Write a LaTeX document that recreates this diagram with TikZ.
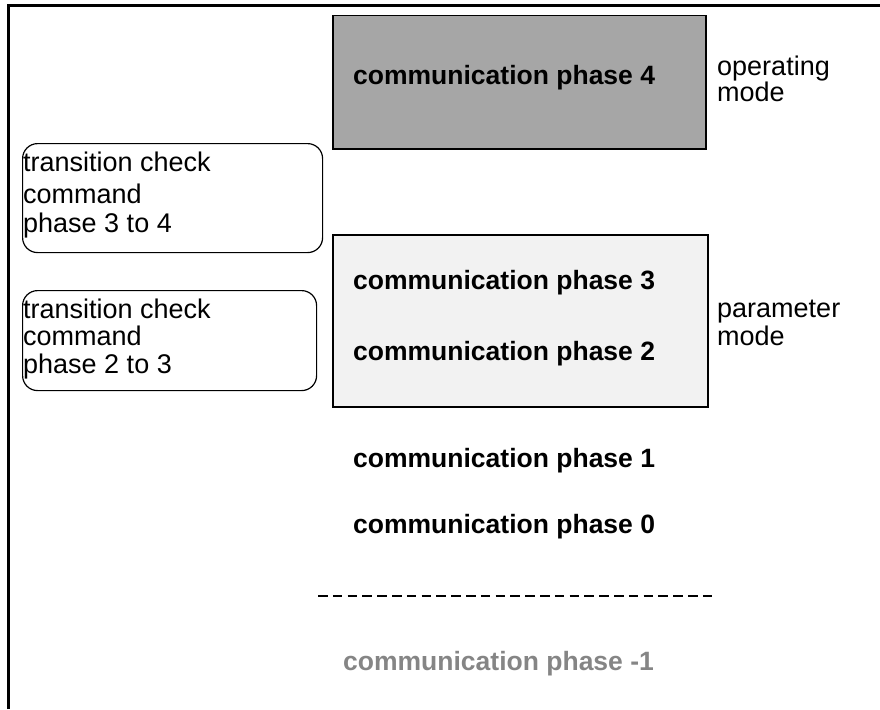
\documentclass[tikz,border=0pt]{standalone}
\usepackage{fontspec}
\setmainfont{Liberation Sans}
\definecolor{opfill}{HTML}{A6A6A6}
\definecolor{parfill}{HTML}{F2F2F2}
\definecolor{greytext}{HTML}{858585}
\begin{document}
\begin{tikzpicture}[x=1pt,y=-1pt,
  phasebox/.style={draw=black, line width=1.5pt, anchor=north west, inner sep=0pt},
  cmdbox/.style={draw=black, line width=1.2pt, rounded corners=15pt, anchor=north west, inner sep=0pt},
  phasetext/.style={anchor=base west, inner sep=0pt, font=\fontsize{26.5}{30}\selectfont\bfseries},
  plaintext/.style={anchor=base west, inner sep=0pt, font=\fontsize{27}{30}\selectfont},
]
\useasboundingbox (0,0) rectangle (880,709);
% frame
\draw[line width=2.5pt] (8.5,709) -- (8.5,5.5) -- (880,5.5);
% operating mode box
\node[phasebox, fill=opfill, minimum width=373pt, minimum height=133pt] (opbox) at (332,15) {};
\node[phasetext] (p4) at (353,84) {communication phase 4};
\node[plaintext] (op1) at (717,75) {operating};
\node[plaintext] (op2) at (717,101) {mode};
% parameter mode box
\node[phasebox, fill=parfill, minimum width=375pt, minimum height=172pt] (parbox) at (332,234) {};
\node[phasetext] (p3) at (353,289) {communication phase 3};
\node[phasetext] (p2) at (353,360) {communication phase 2};
\node[plaintext] (pm1) at (717,317) {parameter};
\node[plaintext] (pm2) at (717,345) {mode};
% transition command boxes
\node[cmdbox, minimum width=300pt, minimum height=109pt] (cmd34) at (22,143) {};
\node[plaintext] (c34a) at (23,171) {transition check};
\node[plaintext] (c34b) at (23,203) {command};
\node[plaintext] (c34c) at (23,232) {phase 3 to 4};
\node[cmdbox, minimum width=294pt, minimum height=100pt] (cmd23) at (22,290) {};
\node[plaintext] (c23a) at (23,318) {transition check};
\node[plaintext] (c23b) at (23,345) {command};
\node[plaintext] (c23c) at (23,373) {phase 2 to 3};
% lower phases
\node[phasetext] (p1) at (353,467) {communication phase 1};
\node[phasetext] (p0) at (353,533) {communication phase 0};
\coordinate (dl) at (318,596);
\coordinate (dr) at (717,596);
\draw[line width=1.5pt, dash pattern=on 9.5pt off 5.3pt] (dl) -- (dr);
\node[phasetext, text=greytext] (pm) at (343,670) {communication phase -1};
\end{tikzpicture}
\end{document}
